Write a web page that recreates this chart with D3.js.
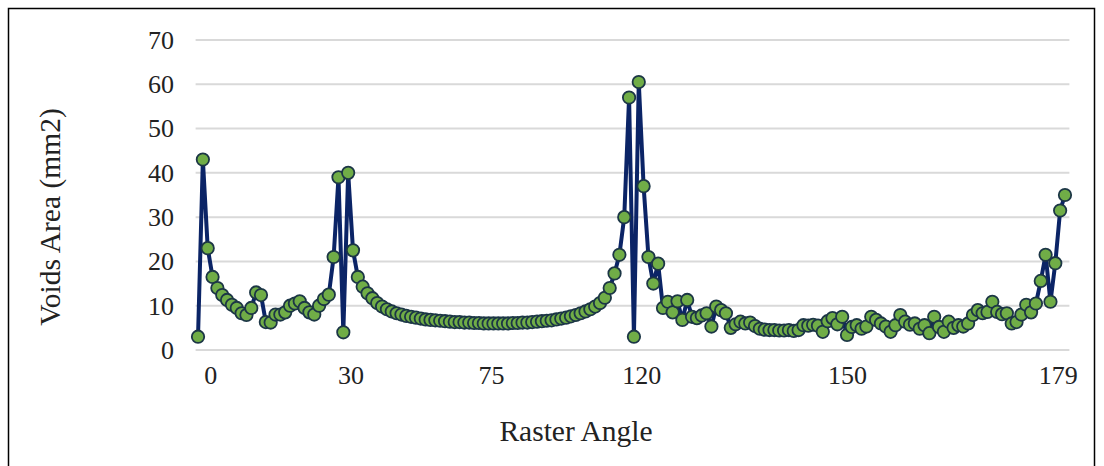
<!DOCTYPE html>
<html>
<head>
<meta charset="utf-8">
<script src="https://cdn.jsdelivr.net/npm/d3@7"></script>
<style>
  body { margin: 0; background: #fff; }
  text { font-family: "Liberation Serif", "Times New Roman", serif; fill: #222; }
</style>
</head>
<body>
<div id="chart"></div>
<script>
// voids area per sample (mm2)
var voids = [
  3, 43, 23, 16.5, 14, 12.4, 11.3, 10.2, 9.5, 8.3,
  7.9, 9.5, 13, 12.4, 6.3, 6.2, 8, 8, 8.5, 10,
  10.5, 11, 9.5, 8.5, 8, 10, 11.5, 12.5, 21, 39,
  4, 40, 22.5, 16.5, 14.3, 12.8, 11.7, 10.6, 9.8, 9.2,
  8.7, 8.3, 8, 7.7, 7.5, 7.3, 7.1, 6.9, 6.8, 6.7,
  6.6, 6.5, 6.4, 6.3, 6.3, 6.2, 6.2, 6.1, 6.1, 6,
  6, 6, 6, 6, 6, 6.1, 6.1, 6.2, 6.2, 6.3,
  6.4, 6.5, 6.6, 6.7, 6.9, 7.1, 7.3, 7.6, 7.9, 8.3,
  8.7, 9.2, 9.8, 10.6, 11.8, 14, 17.3, 21.5, 30, 57,
  3, 60.5, 37, 21, 15, 19.5, 9.5, 10.9, 8.5, 11,
  6.8, 11.3, 7.5, 7.2, 7.8, 8.3, 5.3, 9.8, 9, 8.3,
  5, 5.8, 6.4, 6, 6.2, 5.4, 4.8, 4.6, 4.5, 4.5,
  4.4, 4.4, 4.5, 4.3, 4.5, 5.6, 5.5, 5.7, 5.5, 4.1,
  6.5, 7.2, 5.8, 7.5, 3.4, 5.2, 5.6, 4.8, 5.3, 7.5,
  6.8, 6, 5.3, 4.1, 5.6, 7.9, 6.4, 5.7, 6, 4.8,
  5.6, 3.8, 7.5, 5.2, 4.1, 6.4, 5, 5.6, 5.3, 6,
  7.9, 9, 8.3, 8.6, 10.9, 8.6, 8.1, 8.3, 6, 6.3,
  8, 10.2, 8.5, 10.5, 15.6, 21.5, 10.9, 19.6, 31.5, 35
];

// category labels and the sample they sit under
var xLabels = ["0", "30", "75", "120", "150", "179"];
var xLabelAt = [2.5, 31.5, 60.5, 91.5, 134, 177.5];

var yTicks = [0, 10, 20, 30, 40, 50, 60, 70];

var W = 1104, H = 466;
var plotL = 195.6, plotR = 1067.4, plotT = 40, plotB = 350;

var svg = d3.select("#chart").append("svg")
    .attr("width", W)
    .attr("height", H);

svg.append("rect")
    .attr("width", W).attr("height", H)
    .attr("fill", "#fff");

// frame around the chart
svg.append("rect")
    .attr("x", 8.5).attr("y", 8.5)
    .attr("width", 1086).attr("height", 470)
    .attr("fill", "none")
    .attr("stroke", "#000")
    .attr("stroke-width", 1.5);

var x = d3.scaleLinear()
    .domain([-0.5, voids.length - 0.5])
    .range([plotL, plotR]);

var y = d3.scaleLinear()
    .domain([0, 70])
    .range([plotB, plotT]);

// gridlines
svg.append("g")
    .selectAll("line")
    .data(yTicks)
    .join("line")
    .attr("x1", plotL).attr("x2", plotR + 2)
    .attr("y1", d => y(d)).attr("y2", d => y(d))
    .attr("stroke", "#d9d9d9")
    .attr("stroke-width", 2);

// y axis labels
var yAxis = d3.axisLeft(y).tickValues(yTicks).tickSize(0).tickPadding(0);
svg.append("g")
    .attr("transform", "translate(174,0)")
    .call(yAxis)
    .call(g => g.select(".domain").remove())
    .selectAll("text")
    .attr("font-size", 26)
    .attr("font-family", "Liberation Serif, serif")
    .attr("fill", "#262626");

// x axis labels
var xAxis = d3.axisBottom(x)
    .tickValues(xLabelAt)
    .tickFormat((d, i) => xLabels[i])
    .tickSize(0).tickPadding(0);
svg.append("g")
    .attr("transform", "translate(0,366)")
    .call(xAxis)
    .call(g => g.select(".domain").remove())
    .selectAll("text")
    .attr("font-size", 26)
    .attr("font-family", "Liberation Serif, serif")
    .attr("fill", "#262626");

var line = d3.line()
    .x((d, i) => x(i))
    .y(d => y(d));

svg.append("path")
    .datum(voids)
    .attr("fill", "none")
    .attr("stroke", "#0b2466")
    .attr("stroke-width", 4)
    .attr("stroke-linejoin", "round")
    .attr("d", line);

svg.append("g")
    .selectAll("circle")
    .data(voids)
    .join("circle")
    .attr("cx", (d, i) => x(i))
    .attr("cy", d => y(d))
    .attr("r", 6.2)
    .attr("fill", "#70ad47")
    .attr("stroke", "#1c3646")
    .attr("stroke-width", 1.8);

// axis titles
svg.append("text")
    .attr("x", 576).attr("y", 441)
    .attr("text-anchor", "middle")
    .attr("font-size", 29.5)
    .text("Raster Angle");

svg.append("text")
    .attr("transform", "translate(60,217) rotate(-90)")
    .attr("text-anchor", "middle")
    .attr("font-size", 29.5)
    .text("Voids Area (mm2)");
</script>
</body>
</html>
